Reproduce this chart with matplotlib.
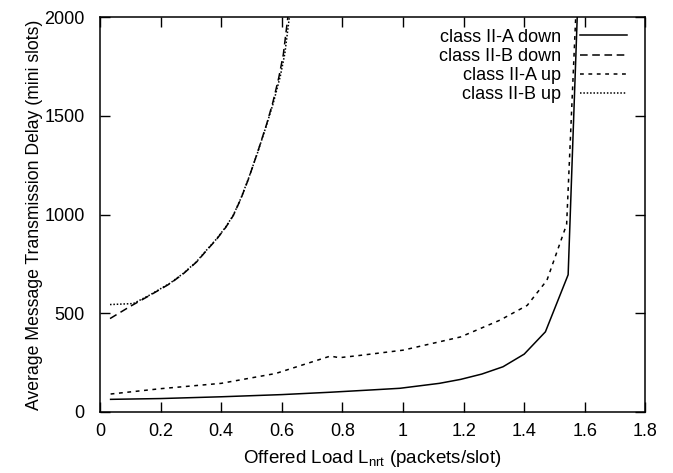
import matplotlib
matplotlib.use("Agg")
import matplotlib.pyplot as plt

plt.rcParams['font.family'] = ['Liberation Sans', 'DejaVu Sans']
plt.rcParams['mathtext.default'] = 'regular'

# Data
a_down_x = [0.035, 0.2, 0.4, 0.6, 0.76, 0.9, 0.99, 1.12, 1.19, 1.26, 1.33, 1.40, 1.47, 1.545, 1.575]
a_down_y = [64, 68, 77, 88, 100, 112, 120, 145, 165, 192, 229, 293, 406, 695, 2000]

b_down_x = [0.033, 0.1, 0.165, 0.231, 0.275, 0.319, 0.35, 0.385, 0.415, 0.44, 0.465,
            0.49, 0.52, 0.55, 0.57, 0.59, 0.605, 0.62]
b_down_y = [473, 535, 591, 650, 700, 760, 815, 875, 935, 995, 1080,
            1180, 1315, 1458, 1565, 1693, 1810, 2000]

a_up_x = [0.035, 0.2, 0.4, 0.58, 0.76, 0.79, 0.85, 1.0, 1.19, 1.32, 1.41, 1.475, 1.54, 1.57]
a_up_y = [91, 118, 145, 195, 283, 275, 285, 313, 380, 465, 540, 667, 950, 2000]

b_up_x = [0.033, 0.11, 0.165, 0.231, 0.275, 0.319, 0.35, 0.385, 0.415, 0.44, 0.465,
          0.49, 0.52, 0.55, 0.572, 0.595, 0.61, 0.625]
b_up_y = [544, 549, 593, 652, 702, 762, 817, 877, 937, 997, 1082,
          1182, 1313, 1455, 1565, 1700, 1815, 2000]

labels = ["class II-A down", "class II-B down", "class II-A up", "class II-B up"]
xticks = [0, 0.2, 0.4, 0.6, 0.8, 1, 1.2, 1.4, 1.6, 1.8]
xticklabels = ["0", "0.2", "0.4", "0.6", "0.8", "1", "1.2", "1.4", "1.6", "1.8"]
yticks = [0, 500, 1000, 1500, 2000]

fig = plt.figure(figsize=(6.73, 4.73), dpi=100)
ax = fig.add_axes([0.1486, 0.129, 0.8104, 0.835])

lw = 1.1
ax.plot(a_down_x, a_down_y, color='black', lw=lw, linestyle='-', label=labels[0])
ax.plot(b_down_x, b_down_y, color='black', lw=lw, linestyle=(0, (5, 3)), label=labels[1])
ax.plot(a_up_x, a_up_y, color='black', lw=lw, linestyle=(0, (2.5, 3)), label=labels[2])
ax.plot(b_up_x, b_up_y, color='black', lw=lw, linestyle=(0, (1, 1.2)), label=labels[3])

ax.set_xlim(0, 1.8)
ax.set_ylim(0, 2000)
ax.set_xticks(xticks)
ax.set_xticklabels(xticklabels)
ax.set_yticks(yticks)
ax.tick_params(direction='in', top=True, right=True, length=7, width=1, labelsize=13)
ax.tick_params(axis='x', pad=8)
ax.tick_params(axis='y', pad=11)
for s in ax.spines.values():
    s.set_linewidth(1.1)

ax.set_xlabel("Offered Load L$_{nrt}$ (packets/slot)", fontsize=13.5, labelpad=6)
ax.set_ylabel("Average Message Transmission Delay (mini slots)", fontsize=12.7, labelpad=1)

leg = ax.legend(loc='upper right', bbox_to_anchor=(1.0, 1.016), frameon=False,
                markerfirst=False, fontsize=13,
                handlelength=2.65, labelspacing=0.12, borderaxespad=0.6, borderpad=0.4,
                handletextpad=1.0)
for t in leg.get_texts():
    t.set_ha('right')
leg._legend_box.align = "right"

fig.savefig("out.png", dpi=100)
